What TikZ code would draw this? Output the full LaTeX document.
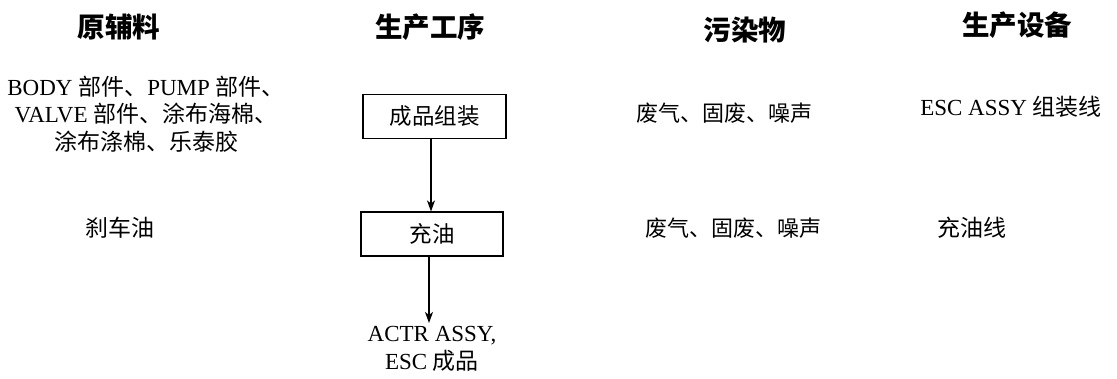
\documentclass[tikz,border=0pt]{standalone}
\usepackage{fontspec}
\setmainfont{Liberation Serif}
\newfontfamily\cjk{Noto Sans CJK SC}
\usetikzlibrary{arrows.meta}
\tikzset{
  hdr/.style={font=\cjk\bfseries\fontsize{27.5}{31}\selectfont, inner sep=0pt},
  txt/.style={font=\fontsize{23}{27.5}\selectfont, inner sep=0pt, align=center},
  ptxt/.style={font=\cjk\fontsize{22}{26}\selectfont, inner sep=0pt},
  stepbox/.style={draw, line width=1.1pt, minimum height=44pt, inner sep=0pt, font=\cjk\fontsize{22.5}{24}\selectfont},
  arr/.style={-{Stealth[length=11pt,width=8pt,inset=3pt]}, line width=1.2pt}
}
\begin{document}
\begin{tikzpicture}[x=1pt,y=-1pt]
\useasboundingbox (0,0) rectangle (1117,378);
% headers
\node[hdr] (h1) at (119,27) {原辅料};
\node[hdr] (h2) at (430,27) {生产工序};
\node[hdr] (h3) at (745,30) {污染物};
\node[hdr] (h4) at (1017,25) {生产设备};
% raw materials
\node[txt] (r1) at (146,114) {BODY {\cjk 部件、}PUMP {\cjk 部件、}\\VALVE {\cjk 部件、涂布海棉、}\\{\cjk 涂布涤棉、乐泰胶}};
\node[txt] (r2) at (120,228) {\cjk 刹车油};
% process
\node[stepbox, minimum width=143pt] (p1) at (434.5,116.5) {成品组装};
\node[stepbox, minimum width=142pt] (p2) at (432,234) {充油};
\node[txt] (out) at (432,349) {ACTR ASSY,\\ESC {\cjk 成品}};
\draw[arr] (p1.south -| 431,0) -- (p2.north -| 431,0);
\draw[arr] (p2.south -| 429,0) -- (429,323);
% pollutants
\node[ptxt] (w1) at (724,113) {废气、固废、噪声};
\node[ptxt] (w2) at (733,228) {废气、固废、噪声};
% equipment
\node[txt] (e1) at (1011,107) {ESC ASSY {\cjk 组装线}};
\node[txt] (e2) at (972,228) {\cjk 充油线};
\end{tikzpicture}
\end{document}
